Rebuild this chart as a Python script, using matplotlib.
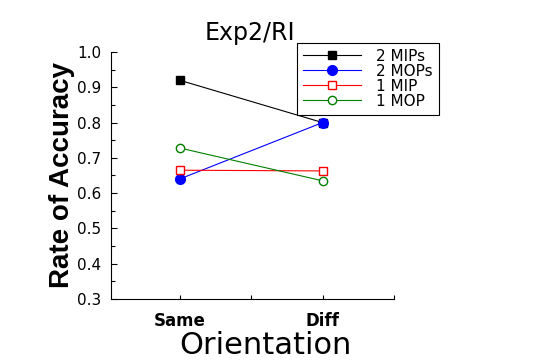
import matplotlib
matplotlib.use("Agg")
import matplotlib.pyplot as plt
from matplotlib.ticker import MultipleLocator

conditions = ["Same", "Diff"]
x_pos = [1, 2]
mips2 = [0.92, 0.80]
mops2 = [0.64, 0.80]
mip1 = [0.665, 0.663]
mop1 = [0.728, 0.635]

plt.rcParams["font.family"] = "DejaVu Sans"

fig = plt.figure(figsize=(5.4, 3.6), dpi=100)
ax = fig.add_axes([111/540, 1-299/360, 283/540, 247/360])

ax.plot(x_pos, mips2, color="black", lw=0.8, marker="s", ms=6,
        mfc="black", mec="black", label="2 MIPs")
ax.plot(x_pos, mops2, color="blue", lw=0.8, marker="o", ms=7,
        mfc="blue", mec="blue", label="2 MOPs")
ax.plot(x_pos, mip1, color="red", lw=0.8, marker="s", ms=6,
        mfc="white", mec="red", mew=1, label="1 MIP")
ax.plot(x_pos, mop1, color="green", lw=0.8, marker="o", ms=6,
        mfc="white", mec="green", mew=1, label="1 MOP")

ax.set_xlim(0.52, 2.5)
ax.set_ylim(0.3, 1.0)
ax.set_xticks([1, 1.5, 2, 2.5])
ax.set_xticklabels([conditions[0], "", conditions[1], ""],
                   fontweight="bold", fontsize=12)
ax.yaxis.set_major_locator(MultipleLocator(0.1))
ax.yaxis.set_minor_locator(MultipleLocator(0.05))
ax.set_yticklabels([f"{v:.1f}" for v in ax.get_yticks()], fontsize=11)
ax.tick_params(axis="y", which="major", direction="in", length=4, width=0.8, pad=7)
ax.tick_params(axis="y", which="minor", direction="in", length=3, width=0.8)
ax.tick_params(axis="x", direction="in", length=3, width=0.8, pad=9)
for s in ["top", "right"]:
    ax.spines[s].set_visible(False)
for s in ["left", "bottom"]:
    ax.spines[s].set_linewidth(0.8)

fig.text(250/540, 1-33/360, "Exp2/RI", ha="center", va="center", fontsize=17)
fig.text(265/540, 1-354/360, "Orientation", ha="center", va="baseline", fontsize=22)
fig.text(62/540, 1-175/360, "Rate of Accuracy", ha="center", va="center",
         rotation=90, fontsize=20, fontweight="bold", family="Liberation Sans")

leg = ax.legend(loc="upper left", bbox_to_anchor=(297/540, 1-43/360),
                bbox_transform=fig.transFigure, fontsize=11, frameon=True,
                fancybox=False, edgecolor="black", framealpha=1,
                borderaxespad=0, borderpad=0.38, handlelength=3.8,
                handletextpad=1.0, labelspacing=0, numpoints=1)
leg.get_frame().set_linewidth(0.8)

fig.savefig("out.png", dpi=100)
